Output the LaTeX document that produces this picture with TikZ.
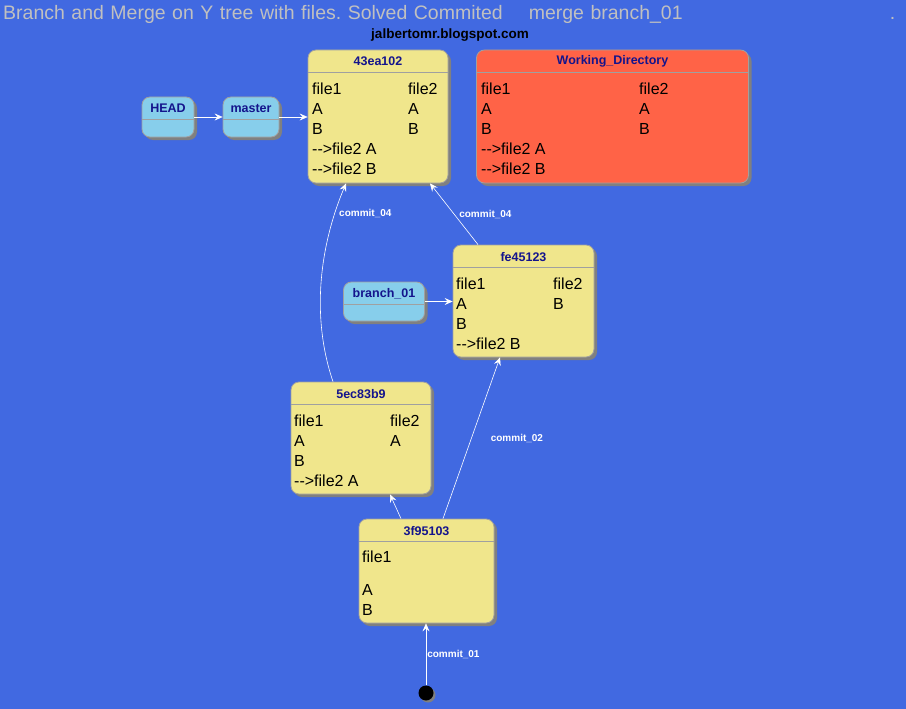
\documentclass[tikz,border=0pt]{standalone}
\usepackage{fontspec}
\setmainfont[Ligatures=TeXOff]{Liberation Sans}
\usetikzlibrary{arrows.meta}
\usetikzlibrary{calc}
\usetikzlibrary{shadows}
\usetikzlibrary{positioning}
\definecolor{bgblue}{HTML}{4169E1}
\definecolor{khaki}{HTML}{F0E68C}
\definecolor{tomato}{HTML}{FF6347}
\definecolor{skyblue}{HTML}{87CEEB}
\definecolor{titlenavy}{HTML}{14148C}
\definecolor{bordergray}{HTML}{A0A0A0}
\definecolor{captiongray}{HTML}{C0C0C0}
\tikzset{gstate/.style={draw=bordergray, line width=0.8pt, rounded corners=8pt,
    inner sep=0pt, drop shadow={shadow xshift=3pt, shadow yshift=-3pt, fill=black!50, opacity=1}}}
\tikzset{boxtitle/.style={inner sep=0pt, text=titlenavy, font=\fontsize{12.5}{15}\selectfont\bfseries}}
\tikzset{line/.style={anchor=west, inner sep=0pt, font=\fontsize{16}{19}\selectfont}}
\tikzset{sep/.style={draw=bordergray, line width=0.8pt}}
\tikzset{arrow/.style={draw=white, line width=0.6pt, -{Stealth[length=8pt, width=7pt, inset=3pt]}}}
\tikzset{elabel/.style={text=white, inner sep=1pt, font=\fontsize{10}{12}\selectfont\bfseries}}
\newcommand{\header}[2]{
    \node[boxtitle] (#1t) at ([yshift=-12pt]#1.north) {#2};
    \draw[sep] ([yshift=-23pt]#1.north west) -- ([yshift=-23pt]#1.north east);
}
\frenchspacing

\begin{document}
\begin{tikzpicture}[x=1pt, y=-1pt]
        \fill[bgblue] (0,0) rectangle (906,709);
        \useasboundingbox (0,0) rectangle (906,709);

        \node[anchor=west, inner sep=0pt, text=captiongray, text width=892pt, align=left,
            font=\fontsize{19.5}{22}\selectfont] (caption) at (3,14.5)
            {Branch and Merge on Y tree with files. Solved Commited\hspace{26pt}merge branch\_01\hfill.};
        \node[font=\fontsize{13.5}{16}\selectfont\bfseries] (credit) at (450,35) {jalbertomr.blogspot.com};

        % pointers
        \node[gstate, fill=skyblue, minimum width=52pt, minimum height=40pt] (head) at (168,117) {};
        \header{head}{HEAD}
        \node[gstate, fill=skyblue, minimum width=56pt, minimum height=40pt] (master) at (251,117) {};
        \header{master}{master}
        \node[gstate, fill=skyblue, minimum width=81pt, minimum height=39pt] (br01) at (384,301.5) {};
        \header{br01}{branch\_01}

        % commits
        \node[gstate, fill=khaki, minimum width=140pt, minimum height=133pt] (c43) at (378,116.5) {};
        \header{c43}{43ea102}
        \foreach \t [count=\i] in {file1, A, B, -->file2 A, -->file2 B}
            \node[line] (c43l\i) at (312,{69+20*\i}) {\t};
        \foreach \t [count=\i] in {file2, A, B}
            \node[line] (c43r\i) at (408,{69+20*\i}) {\t};

        \node[gstate, fill=tomato, minimum width=272pt, minimum height=133pt] (wdir) at (612.5,116.5) {};
        \header{wdir}{Working\_Directory}
        \foreach \t [count=\i] in {file1, A, B, -->file2 A, -->file2 B}
            \node[line] (wdirl\i) at (481,{69+20*\i}) {\t};
        \foreach \t [count=\i] in {file2, A, B}
            \node[line] (wdirr\i) at (639,{69+20*\i}) {\t};

        \node[gstate, fill=khaki, minimum width=141pt, minimum height=112pt] (cfe) at (523.5,301) {};
        \header{cfe}{fe45123}
        \foreach \t [count=\i] in {file1, A, B, -->file2 B}
            \node[line] (cfel\i) at (456,{264+20*\i}) {\t};
        \foreach \t [count=\i] in {file2, B}
            \node[line] (cfer\i) at (553,{264+20*\i}) {\t};

        \node[gstate, fill=khaki, minimum width=140pt, minimum height=112pt] (c5e) at (361,438) {};
        \header{c5e}{5ec83b9}
        \foreach \t [count=\i] in {file1, A, B, -->file2 A}
            \node[line] (c5el\i) at (294,{401+20*\i}) {\t};
        \foreach \t [count=\i] in {file2, A}
            \node[line] (c5er\i) at (390,{401+20*\i}) {\t};

        \node[gstate, fill=khaki, minimum width=135pt, minimum height=104pt] (c3f) at (426.5,571) {};
        \header{c3f}{3f95103}
        \node[line] (c3fl1) at (362,557) {file1};
        \node[line] (c3fl2) at (362,590) {A};
        \node[line] (c3fl3) at (362,610) {B};

        \node[circle, fill=black, minimum size=15pt, inner sep=0pt,
            drop shadow={shadow xshift=2pt, shadow yshift=-2pt, fill=black!50, opacity=1}] (start) at (426,693) {};

        % connectors
        \draw[arrow] (head.east) -- (head.east -| master.west);
        \draw[arrow] (master.east) -- (master.east -| c43.west);
        \draw[arrow] (br01.east) -- (br01.east -| cfe.west);
        \draw[arrow] (start) -- (start |- c3f.south) node[midway, right, elabel] {commit\_01};
        \draw[arrow] ([xshift=-25.5pt]c3f.north) -- ([xshift=29pt]c5e.south);
        \draw[arrow] ([xshift=16.5pt]c3f.north) -- ([xshift=-23.5pt]cfe.south)
            node[midway, right=18pt, elabel] {commit\_02};
        \draw[arrow] ([xshift=-45.5pt]cfe.north) -- ([xshift=52pt]c43.south)
            node[midway, right=4pt, elabel] {commit\_04};
        \draw[arrow] ([xshift=-28pt]c5e.north) .. controls (312,320) and (318,250) .. ([xshift=-32pt]c43.south)
            node[pos=0.85, right=3pt, elabel] {commit\_04};
\end{tikzpicture}
\end{document}
